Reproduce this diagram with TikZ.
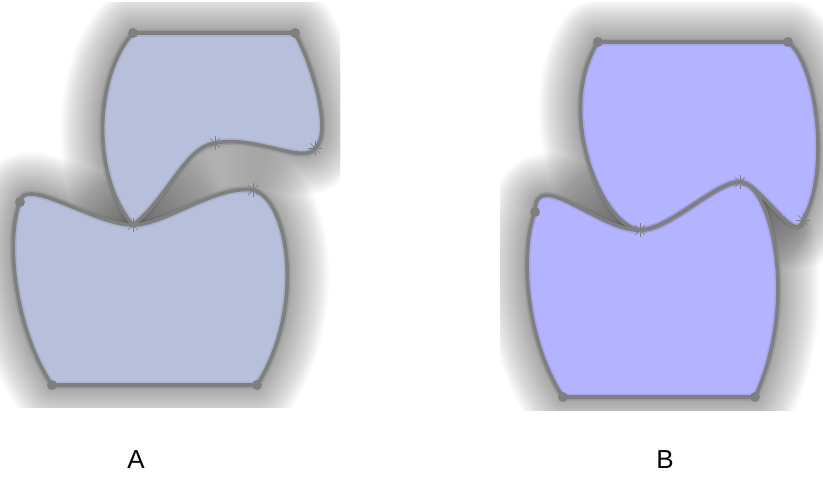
\documentclass[tikz,border=0pt]{standalone}
\usepackage{fontspec}
\setmainfont{Liberation Sans}
\definecolor{fillA}{HTML}{B7BFDA}
\definecolor{fillB}{HTML}{B3B3FF}
\definecolor{edgegray}{HTML}{7F7F7F}
\newcommand\starmark[1]{\foreach \a in {0,45,...,315} {\draw[starline] (#1) -- ++(\a:7);}}
\newcommand\softshadow[1]{\foreach \w in {3,6,...,84} {\draw[shade line=\w pt] #1;}}
\begin{document}
\begin{tikzpicture}[x=1pt, y=-1pt,
    shade line/.style={draw=black, line width=#1, opacity=0.016, line join=round},
    soft edge/.style={draw=black, line width=7pt, opacity=0.07, line join=round},
    outline/.style={draw=edgegray, line width=3.6pt, line join=round},
    starline/.style={draw=edgegray, line width=0.7pt},
    corner/.style={fill=edgegray},
    caption/.style={font=\fontsize{26}{30}\selectfont}
  ]
    \useasboundingbox (0,0) rectangle (823,477);

    \coordinate (at1) at (133,33);
    \coordinate (at2) at (295,33);
    \coordinate (at3) at (315,148);
    \coordinate (at4) at (215,143);
    \coordinate (at5) at (133,225);
    \coordinate (ab1) at (20,202);
    \coordinate (ab3) at (253,190);
    \coordinate (ab4) at (257,385);
    \coordinate (ab5) at (52,385);

    \coordinate (bt1) at (598,42);
    \coordinate (bt2) at (788,42);
    \coordinate (bt3) at (803,220);
    \coordinate (bt4) at (740,182);
    \coordinate (bt5) at (640,230);
    \coordinate (bb1) at (535,212);
    \coordinate (bb4) at (755,397);
    \coordinate (bb5) at (563,397);

    \def\pathAT{(at1) -- (at2) .. controls (315,70) and (332,135) .. (at3)
      .. controls (305,165) and (255,135) .. (at4)
      .. controls (185,147) and (168,198) .. (at5)
      .. controls (90,175) and (95,75) .. (at1) -- cycle}
    \def\pathAB{(ab1) .. controls (24,175) and (95,225) .. (at5)
      .. controls (165,225) and (215,185) .. (ab3)
      .. controls (290,200) and (305,310) .. (ab4) -- (ab5)
      .. controls (15,330) and (5,240) .. (ab1) -- cycle}
    \def\pathBT{(bt1) -- (bt2) .. controls (818,65) and (830,175) .. (bt3)
      .. controls (797,248) and (760,182) .. (bt4)
      .. controls (715,182) and (670,230) .. (bt5)
      .. controls (600,225) and (555,110) .. (bt1) -- cycle}
    \def\pathBB{(bb1) .. controls (535,165) and (600,232) .. (bt5)
      .. controls (670,230) and (715,182) .. (bt4)
      .. controls (770,182) and (800,300) .. (bb4) -- (bb5)
      .. controls (525,340) and (520,250) .. (bb1) -- cycle}

    \begin{scope}
      \clip (0,2) rectangle (340,407);
      \softshadow{\pathAB}
      \softshadow{\pathAT}
    \end{scope}
    \fill[fillA] \pathAB;
    \fill[fillA] \pathAT;
    \draw[soft edge] \pathAB;
    \draw[soft edge] \pathAT;
    \draw[outline] \pathAB;
    \draw[outline] \pathAT;

    \begin{scope}
      \clip (500,2) rectangle (823,410);
      \softshadow{\pathBB}
      \softshadow{\pathBT}
    \end{scope}
    \fill[fillB] \pathBB;
    \fill[fillB] \pathBT;
    \draw[soft edge] \pathBB;
    \draw[soft edge] \pathBT;
    \draw[outline] \pathBB;
    \draw[outline] \pathBT;

    \foreach \p in {at1,at2,ab1,ab4,ab5,bt1,bt2,bb1,bb4,bb5}
      {\fill[corner] (\p) circle[radius=5];}
    \foreach \p in {at3,at4,at5,ab3,bt3,bt4,bt5}
      {\starmark{\p}}

    \node[caption] (labelA) at (136,460) {A};
    \node[caption] (labelB) at (665,460) {B};
  \end{tikzpicture}
\end{document}
